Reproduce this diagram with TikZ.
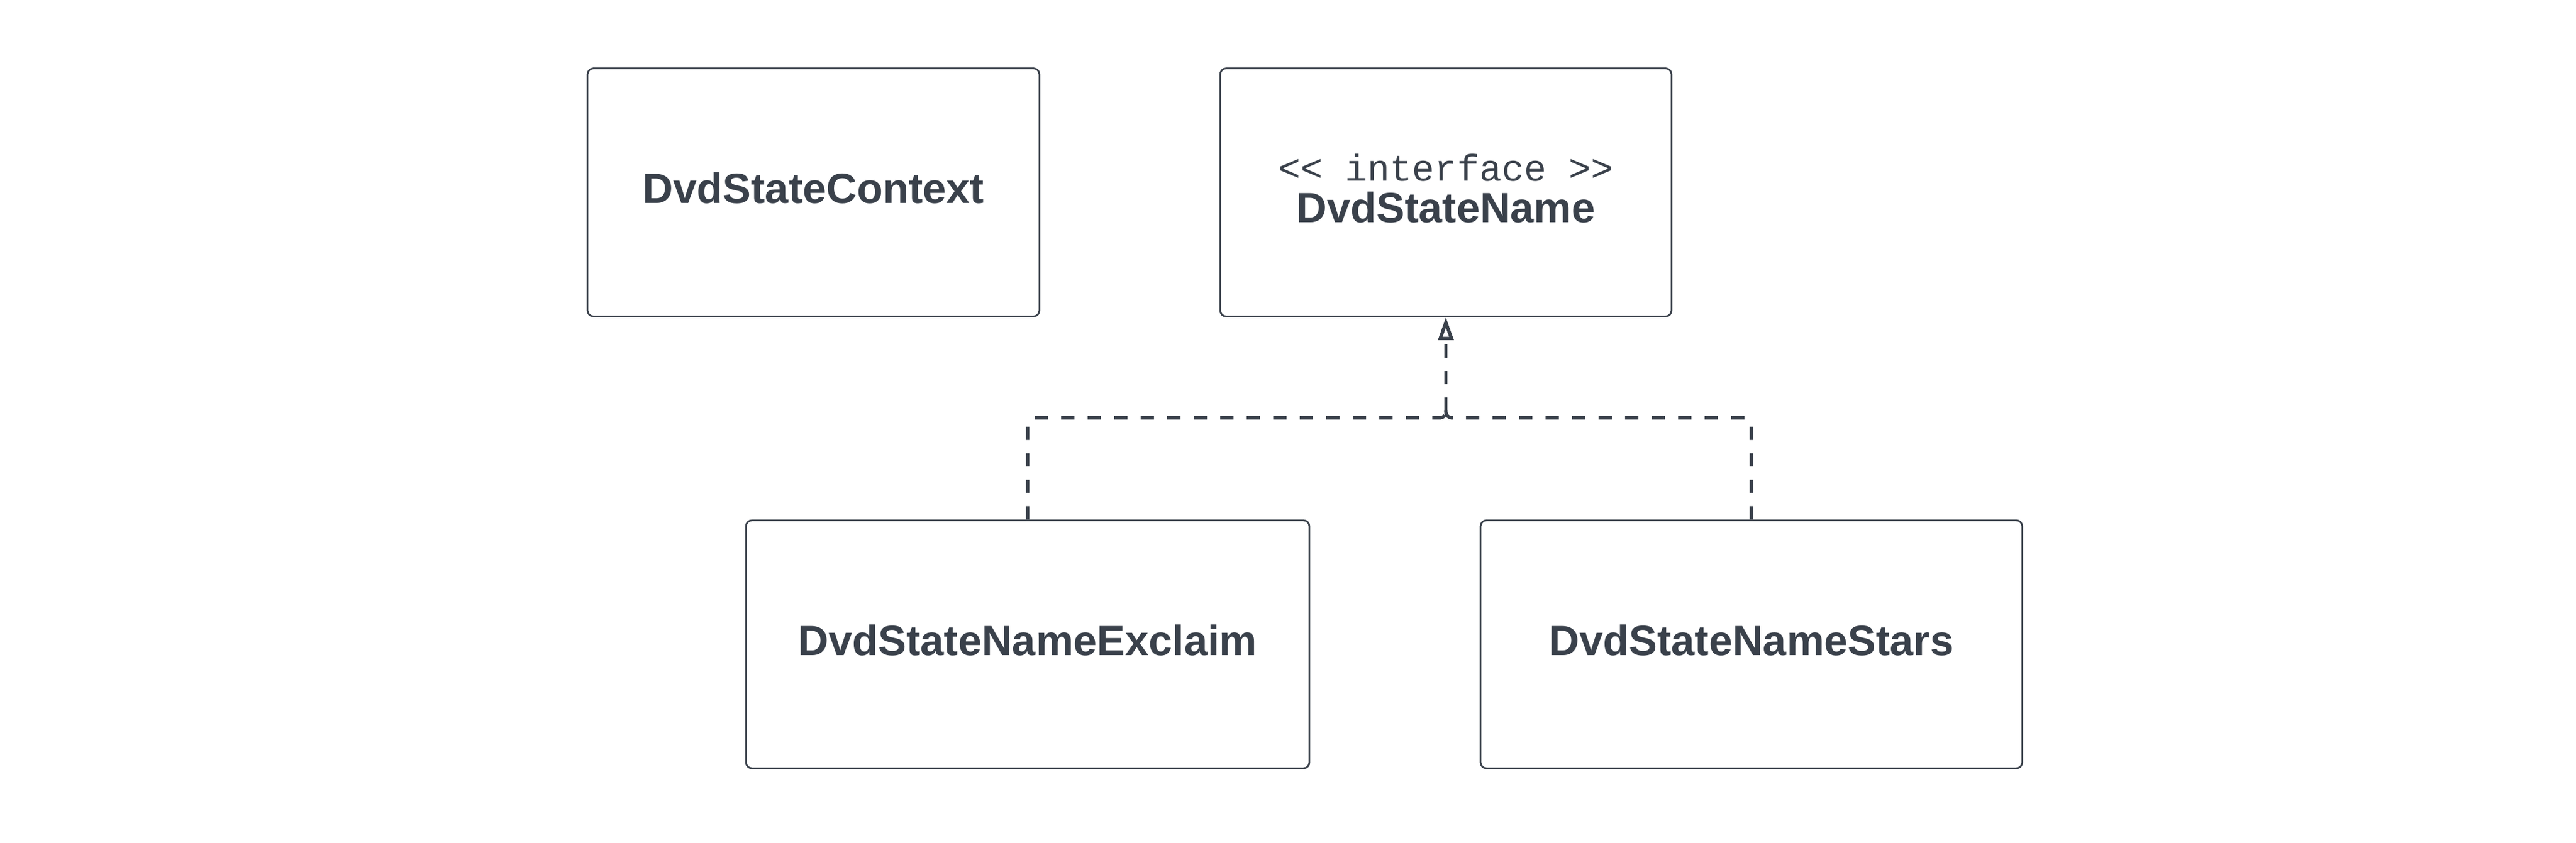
\documentclass[tikz,border=0pt]{standalone}
\usepackage{fontspec}
\setmainfont{Liberation Sans}
\setmonofont{Liberation Mono}
\usepackage{tikz}
\usetikzlibrary{arrows.meta,positioning,calc}
\definecolor{umlslate}{RGB}{58,65,75}

\begin{document}
\begin{tikzpicture}[
    classbox/.style={draw=umlslate,line width=0.8pt,rounded corners=0.1cm,text=umlslate,font=\fontsize{20}{24}\selectfont\bfseries,align=center,inner sep=0pt,text depth=0.14cm,minimum height=4.12cm},
    realize/.style={draw=umlslate,line width=1.6pt,dash pattern=on 0.22cm off 0.22cm,rounded corners=0.1cm},
]
\useasboundingbox (0,0) rectangle (42.75,14);

% Context class
\node[classbox,minimum width=7.5cm] (ctx) at (13.5,10.805) {DvdStateContext};

% Interface
\node[classbox,minimum width=7.49cm] (iface) at (23.995,10.805) {{\fontsize{17.6}{20}\selectfont\ttfamily\mdseries <{}< interface >{}>}\\[-0.16cm]DvdStateName};

% Implementations
\node[classbox,minimum width=9.35cm] (exclaim) at (17.055,3.3) {DvdStateNameExclaim};
\node[classbox,minimum width=8.99cm] (stars) at (29.065,3.3) {DvdStateNameStars};

% Realization
\coordinate[below=1.67cm of iface.south] (join);
\draw[realize] (exclaim.north) |- (join) -- ++(0,0.12);
\draw[realize] (stars.north) |- (join) -- ++(0,0.12);
\draw[realize,-{Triangle[open,length=0.38cm,width=0.25cm]}] ([yshift=0.12cm]join) -- (iface.south);

\end{tikzpicture}
\end{document}
